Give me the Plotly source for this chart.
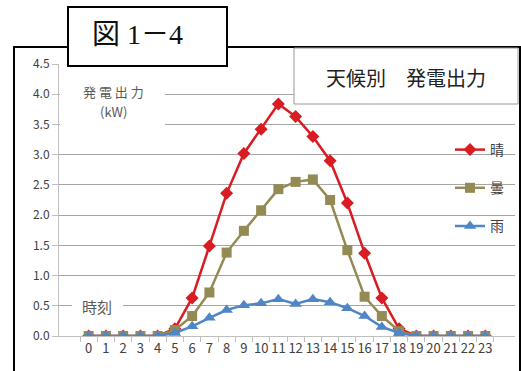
import plotly.graph_objects as go

# Hourly generation output (kW) by weather
hours = [str(h) for h in range(24)]
sunny = [0, 0, 0, 0, 0, 0.12, 0.63, 1.49, 2.36, 3.02, 3.42, 3.84, 3.63, 3.30, 2.90,
         2.20, 1.37, 0.63, 0.12, 0, 0, 0, 0, 0]
cloudy = [0, 0, 0, 0, 0, 0.10, 0.33, 0.72, 1.38, 1.74, 2.08, 2.43, 2.55, 2.59, 2.25,
          1.42, 0.65, 0.33, 0.08, 0, 0, 0, 0, 0]
rainy = [0, 0, 0, 0, 0, 0.05, 0.16, 0.30, 0.43, 0.51, 0.54, 0.61, 0.53, 0.61, 0.56,
         0.46, 0.33, 0.15, 0.05, 0, 0, 0, 0, 0]
y_ticks = [0, 0.5, 1.0, 1.5, 2.0, 2.5, 3.0, 3.5, 4.0, 4.5]

W, H = 521, 371
ML, MR, MT, MB = 59, 6, 64, 35
PW, PH = W - ML - MR, H - MT - MB

JP = "Noto Sans CJK JP"
SERIF = "Liberation Serif, Noto Sans CJK JP"


def px(x):
    return (x - ML) / PW


def py(y):
    return (H - MB - y) / PH


fig = go.Figure()
series = [
    ("晴", sunny, "#d81c22", "diamond", 10),
    ("曇", cloudy, "#948a54", "square", 10),
    ("雨", rainy, "#4f86c6", "triangle-up", 11),
]
for name, vals, color, sym, size in series:
    fig.add_trace(go.Scatter(
        x=hours, y=vals, name=name, mode="lines+markers",
        line=dict(color=color, width=2.5),
        marker=dict(symbol=sym, size=size, color=color),
        legendgroup=name,
    ))

shapes = [
    # frame around the chart
    dict(type="rect", xref="paper", yref="paper",
         x0=px(14), x1=px(520), y0=py(47), y1=py(380),
         line=dict(color="black", width=2), fillcolor="rgba(0,0,0,0)", layer="above"),
    # figure number box
    dict(type="rect", xref="paper", yref="paper",
         x0=px(68), x1=px(227), y0=py(7), y1=py(66),
         line=dict(color="black", width=2), fillcolor="white", layer="above"),
    # title box
    dict(type="rect", xref="paper", yref="paper",
         x0=px(294), x1=px(518), y0=py(48), y1=py(104),
         line=dict(color="#9a9a9a", width=1), fillcolor="white", layer="above"),
    # backing for axis captions
    dict(type="rect", xref="paper", yref="paper",
         x0=px(60), x1=px(165), y0=py(82), y1=py(130),
         line=dict(width=0), fillcolor="white", layer="above"),
    dict(type="rect", xref="paper", yref="paper",
         x0=px(72), x1=px(123), y0=py(297), y1=py(316),
         line=dict(width=0), fillcolor="white", layer="above"),
]


def label(text, x, y, family, size, color):
    return dict(text=text, xref="paper", yref="paper", x=px(x), y=py(y),
                xanchor="center", yanchor="middle", showarrow=False,
                font=dict(family=family, size=size, color=color))


annotations = [
    label("図 1－4", 137, 35, SERIF, 28, "#111111"),
    label("天候別　発電出力", 406, 77, JP, 20, "#222222"),
    label("発 電 出 力", 113, 91, JP, 13, "#595959"),
    label("(kW)", 113, 111, JP, 13, "#595959"),
    label("時刻", 97, 306, JP, 15, "#595959"),
]

fig.update_layout(
    width=W, height=H,
    margin=dict(l=ML, r=MR, t=MT, b=MB),
    paper_bgcolor="white", plot_bgcolor="white",
    showlegend=True,
    legend=dict(x=px(450), y=py(134), xanchor="left", yanchor="top",
                bgcolor="rgba(0,0,0,0)", itemwidth=30, tracegroupgap=17,
                font=dict(family=JP, size=14, color="#404040")),
    shapes=shapes,
    annotations=annotations,
)
fig.update_xaxes(
    type="category", tickson="boundaries", ticks="outside", ticklen=5,
    tickcolor="#bfbfbf", showgrid=False, showline=True, linecolor="#bfbfbf",
    tickangle=0, tickfont=dict(family=JP, size=13, color="#404040"), fixedrange=True,
)
fig.update_yaxes(
    range=[0, 4.5], tickvals=y_ticks, tickformat=".1f", ticks="outside", ticklen=6,
    tickcolor="#bfbfbf", showgrid=True, gridcolor="#a6a6a6", gridwidth=1,
    showline=True, linecolor="#bfbfbf", zeroline=False,
    tickfont=dict(family=JP, size=12, color="#404040"), fixedrange=True,
)

fig.write_html("out.html")
